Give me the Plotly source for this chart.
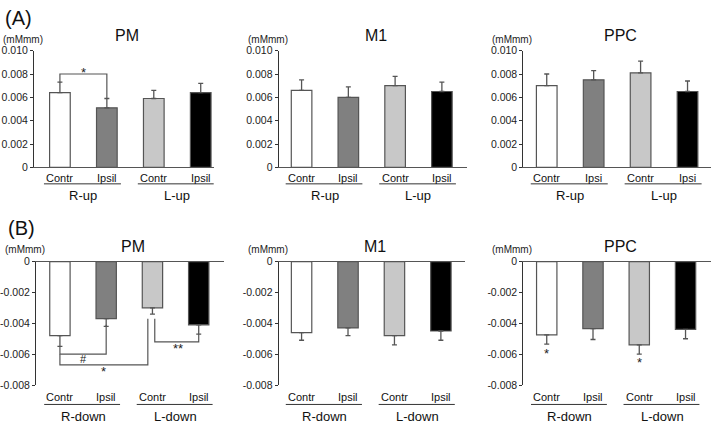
import plotly.graph_objects as go

W, H = 711, 426
FONT = "Liberation Sans, Arial, sans-serif"

# ---------------- data ----------------
top_titles = ["PM", "M1", "PPC"]
bot_titles = ["PM", "M1", "PPC"]
top_cats = [["Contr", "Ipsil", "Contr", "Ipsil"],
            ["Contr", "Ipsil", "Contr", "Ipsil"],
            ["Contr", "Ipsi", "Contr", "Ipsi"]]
bot_cats = [["Contr", "Ipsil", "Contr", "Ipsil"],
            ["Contr", "Ipsil", "Contr", "Ipsil"],
            ["Contr", "Ipsil", "Contr", "Ipsil"]]
top_groups = ["R-up", "L-up"]
bot_groups = ["R-down", "L-down"]

pm_up = [0.0064, 0.0051, 0.0059, 0.0064]
pm_up_err = [0.0009, 0.0008, 0.0007, 0.0008]
m1_up = [0.0066, 0.0060, 0.0070, 0.0065]
m1_up_err = [0.0009, 0.0009, 0.0008, 0.0008]
ppc_up = [0.0070, 0.0075, 0.0081, 0.0065]
ppc_up_err = [0.0010, 0.0008, 0.0010, 0.0009]

pm_down = [-0.0048, -0.0037, -0.0030, -0.0041]
pm_down_err = [0.0007, 0.0005, 0.0004, 0.0006]
m1_down = [-0.0046, -0.0043, -0.0048, -0.0045]
m1_down_err = [0.0005, 0.0005, 0.0006, 0.0006]
ppc_down = [-0.00475, -0.00435, -0.0054, -0.0044]
ppc_down_err = [0.0006, 0.0007, 0.0006, 0.0006]

top_ticks = [0, 0.002, 0.004, 0.006, 0.008, 0.010]
top_ticktext = ["0", "0.002", "0.004", "0.006", "0.008", "0.010"]
bot_ticks = [0, -0.002, -0.004, -0.006, -0.008]
bot_ticktext = ["0", "-0.002", "-0.004", "-0.006", "-0.008"]

bar_colors = ["#ffffff", "#808080", "#c8c8c8", "#000000"]

# significance brackets: (panel, x_left, x_right, y_left_start, y_bar, y_right_end, label, label_x, label_y)
brackets = [
    (0, 0, 1, 0.0073, 0.0080, 0.0059, "*", 0.5, 0.0083),
    (3, 0, 1, -0.0055, -0.0060, -0.0041, "#", 0.5, -0.0063),
    (3, 0, 1.9, -0.0060, -0.0067, -0.0037, "*", 0.95, -0.0070),
    (3, 2.05, 3, -0.0037, -0.0052, -0.0047, "**", 2.55, -0.0055),
]
# lone markers: (panel, x, y, label)
markers = [(5, 0, -0.0058, "*"), (5, 2, -0.0064, "*")]

# ---------------- layout geometry (pixels) ----------------
# per panel: axis-left px, right px, first bar centre px, last bar centre px
geom = [
    (33, 213, 59, 200),
    (278, 467, 301, 441.5),
    (523, 711, 546.5, 687.5),
    (35, 223, 59, 198),
    (278, 465, 301, 440.5),
    (523, 711, 546.5, 685.5),
]
row_px = [(46, 166), (263, 390)]  # top px, bottom px of each row's plot area

values = [pm_up, m1_up, ppc_up, pm_down, m1_down, ppc_down]
errs = [pm_up_err, m1_up_err, ppc_up_err, pm_down_err, m1_down_err, ppc_down_err]

fig = go.Figure()
layout = dict(width=W, height=H, autosize=False, margin=dict(l=0, r=0, t=0, b=0),
              paper_bgcolor="white", plot_bgcolor="white", showlegend=False,
              font=dict(family=FONT, color="#222"))
annotations = []
shapes = []

def py(p):
    return (H - p) / H

def px(p):
    return p / W

for i in range(6):
    n = i + 1
    row = 0 if i < 3 else 1
    a_l, a_r, c0, c3 = geom[i]
    unit = (c3 - c0) / 3.0
    xr = [-(c0 - a_l) / unit, 3 + (a_r - c3) / unit]
    t_px, b_px = row_px[row]
    xs = [0, 1, 2, 3]
    up = row == 0
    fig.add_trace(go.Bar(
        x=xs, y=values[i], width=0.44,
        marker=dict(color=bar_colors, line=dict(color="#555555", width=1.2)),
        error_y=dict(type="data", symmetric=False,
                     array=errs[i] if up else [0] * 4,
                     arrayminus=[0] * 4 if up else errs[i],
                     color="#555555", thickness=1.3, width=2.5),
        xaxis=f"x{n}", yaxis=f"y{n}", hoverinfo="skip"))
    xa = dict(domain=[px(a_l), px(a_r)], range=xr, anchor=f"y{n}",
              showline=True, linecolor="#555555", linewidth=1.3,
              showticklabels=False, ticks="", showgrid=False, zeroline=False,
              fixedrange=True)
    if not up:
        xa["side"] = "top"
    ya = dict(domain=[py(b_px), py(t_px)], anchor=f"x{n}",
              range=[0, 0.010] if up else [-0.008, 0],
              tickvals=top_ticks if up else bot_ticks,
              ticktext=top_ticktext if up else bot_ticktext,
              ticks="outside", ticklen=3, tickcolor="#333", tickwidth=1,
              showline=True, linecolor="#333", linewidth=1,
              showgrid=False, zeroline=False, fixedrange=True,
              tickfont=dict(size=10.5, color="#222", family=FONT))
    layout[f"xaxis{n}"] = xa
    layout[f"yaxis{n}"] = ya

    # title
    title = (top_titles if up else bot_titles)[i % 3]
    annotations.append(dict(text=title, xref="paper", yref="paper",
                            x=px((a_l + a_r) / 2 + 3), y=py(t_px - 16),
                            showarrow=False, font=dict(size=16, color="#111"),
                            xanchor="center", yanchor="middle"))
    # unit label
    annotations.append(dict(text="(mMmm)", xref="paper", yref="paper",
                            x=px(a_l - 11), y=py(t_px - 12), showarrow=False,
                            font=dict(size=10, color="#222"),
                            xanchor="center", yanchor="middle"))
    # category labels
    cats = (top_cats if up else bot_cats)[i % 3]
    lab_y = (b_px + 11) if up else (b_px + 12)
    under_y = (b_px + 17) if up else (b_px + 20)
    grp_y = (b_px + 29) if up else (b_px + 32)
    for k, c in enumerate(cats):
        annotations.append(dict(text=c, xref=f"x{n}", yref="paper", x=xs[k], y=py(lab_y),
                                showarrow=False, font=dict(size=11, color="#111"),
                                xanchor="center", yanchor="middle"))
    groups = top_groups if up else bot_groups
    for g in range(2):
        xa0, xa1 = 2 * g - 0.34, 2 * g + 1.3
        shapes.append(dict(type="line", xref=f"x{n}", yref="paper",
                           x0=xa0, x1=xa1, y0=py(under_y), y1=py(under_y),
                           line=dict(color="#333", width=1)))
        annotations.append(dict(text=groups[g], xref=f"x{n}", yref="paper",
                                x=2 * g + 0.5, y=py(grp_y), showarrow=False,
                                font=dict(size=13, color="#111"),
                                xanchor="center", yanchor="middle"))

# brackets
for (p, x0, x1, ys, yb, ye, lab, lx, ly) in brackets:
    n = p + 1
    path = f"M {x0},{ys} L {x0},{yb} L {x1},{yb} L {x1},{ye}"
    shapes.append(dict(type="path", path=path, xref=f"x{n}", yref=f"y{n}",
                       line=dict(color="#555555", width=1.2)))
    size = 11 if lab == "#" else 13
    annotations.append(dict(text=lab, xref=f"x{n}", yref=f"y{n}", x=lx, y=ly,
                            showarrow=False, font=dict(size=size, color="#222"),
                            xanchor="center", yanchor="middle", yshift=-2 if lab != "#" else 0))
for (p, x, y, lab) in markers:
    n = p + 1
    annotations.append(dict(text=lab, xref=f"x{n}", yref=f"y{n}", x=x, y=y,
                            showarrow=False, font=dict(size=13, color="#222"),
                            xanchor="center", yanchor="middle", yshift=-2))

# panel letters
annotations.append(dict(text="(A)", xref="paper", yref="paper", x=px(2), y=py(12),
                        showarrow=False, font=dict(size=20, color="#111"),
                        xanchor="left", yanchor="middle"))
annotations.append(dict(text="(B)", xref="paper", yref="paper", x=px(5), y=py(228),
                        showarrow=False, font=dict(size=20, color="#111"),
                        xanchor="left", yanchor="middle"))

layout["annotations"] = annotations
layout["shapes"] = shapes
fig.update_layout(**layout)
fig.write_html("out.html", config={"displayModeBar": False},
               post_script="document.body.style.margin='0';document.body.style.overflow='hidden';")
